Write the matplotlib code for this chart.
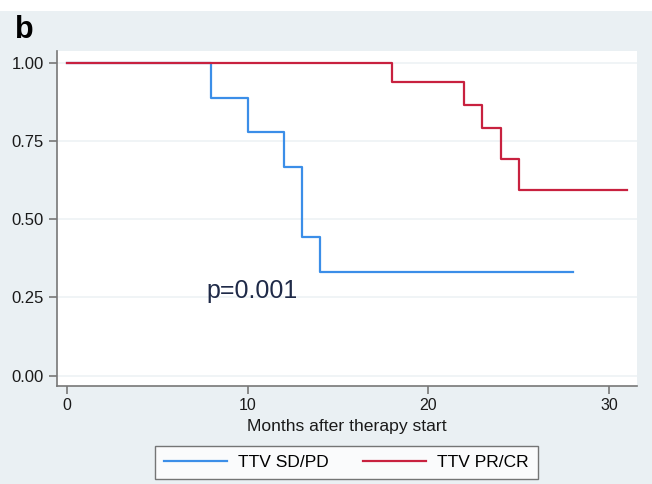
import matplotlib.pyplot as plt
from matplotlib.patches import Rectangle

plt.rcParams['font.family'] = ['Liberation Sans', 'DejaVu Sans']

# Kaplan-Meier step data (months, survival)
sd_months = [0, 8, 10, 12, 13, 14, 28]
sd_surv = [1.0, 0.889, 0.778, 0.667, 0.444, 0.333, 0.333]
pr_months = [0, 18, 22, 23, 24, 25, 31]
pr_surv = [1.0, 0.9375, 0.865, 0.793, 0.694, 0.595, 0.595]

yticks = [0.0, 0.25, 0.5, 0.75, 1.0]
xticks = [0, 10, 20, 30]

BG = "#eaf0f3"
BLUE = "#3b8ee8"
RED = "#c8213f"

fig = plt.figure(figsize=(6.52, 4.84), dpi=100, facecolor=BG)
# white strip at the very top of the panel
fig.patches.append(Rectangle((0, 1 - 11 / 484), 1, 11 / 484, transform=fig.transFigure,
                             facecolor="white", edgecolor="none", zorder=0))

ax = fig.add_axes([56.5 / 652, 1 - 386 / 484, (637 - 56.5) / 652, (386 - 51) / 484])
ax.set_facecolor("white")

ax.step(sd_months, sd_surv, where="post", color=BLUE, lw=1.6, label="TTV SD/PD")
ax.step(pr_months, pr_surv, where="post", color=RED, lw=1.6, label="TTV PR/CR")

ax.set_xlim(-0.57, 31.55)
ax.set_ylim(-0.033, 1.038)
ax.set_xticks(xticks)
ax.set_yticks(yticks)
ax.set_yticklabels([f"{v:.2f}" for v in yticks])
ax.grid(axis="y", color="#eef2f5", lw=1.2)
ax.set_axisbelow(True)

for s in ["top", "right"]:
    ax.spines[s].set_visible(False)
for s in ["left", "bottom"]:
    ax.spines[s].set_color("#777777")
    ax.spines[s].set_linewidth(1.2)
ax.tick_params(length=6, width=1.2, color="#777777", labelsize=12, labelcolor="#1a1a1a", pad=3)
ax.tick_params(axis="x", labelsize=11.5, pad=3)

ax.set_xlabel("Months after therapy start", fontsize=12.6, color="#1a1a1a", labelpad=4)

ax.text(7.7, 0.27, "p=0.001", fontsize=18, color="#1f2a48", va="center", ha="left")

fig.text(15 / 652, 1 - 30 / 484, "b", fontsize=22, fontweight="bold", va="center", ha="left")

leg = fig.legend(loc="center", bbox_to_anchor=(346.5 / 652, 1 - 462.5 / 484), ncol=2,
                 frameon=True, fancybox=False, fontsize=12.5, handlelength=3.6,
                 handletextpad=0.65, columnspacing=2.0, borderpad=0.5, borderaxespad=0)
leg.get_frame().set_edgecolor("#555555")
leg.get_frame().set_linewidth(1.0)

fig.savefig("out.png", dpi=100, facecolor=BG)
